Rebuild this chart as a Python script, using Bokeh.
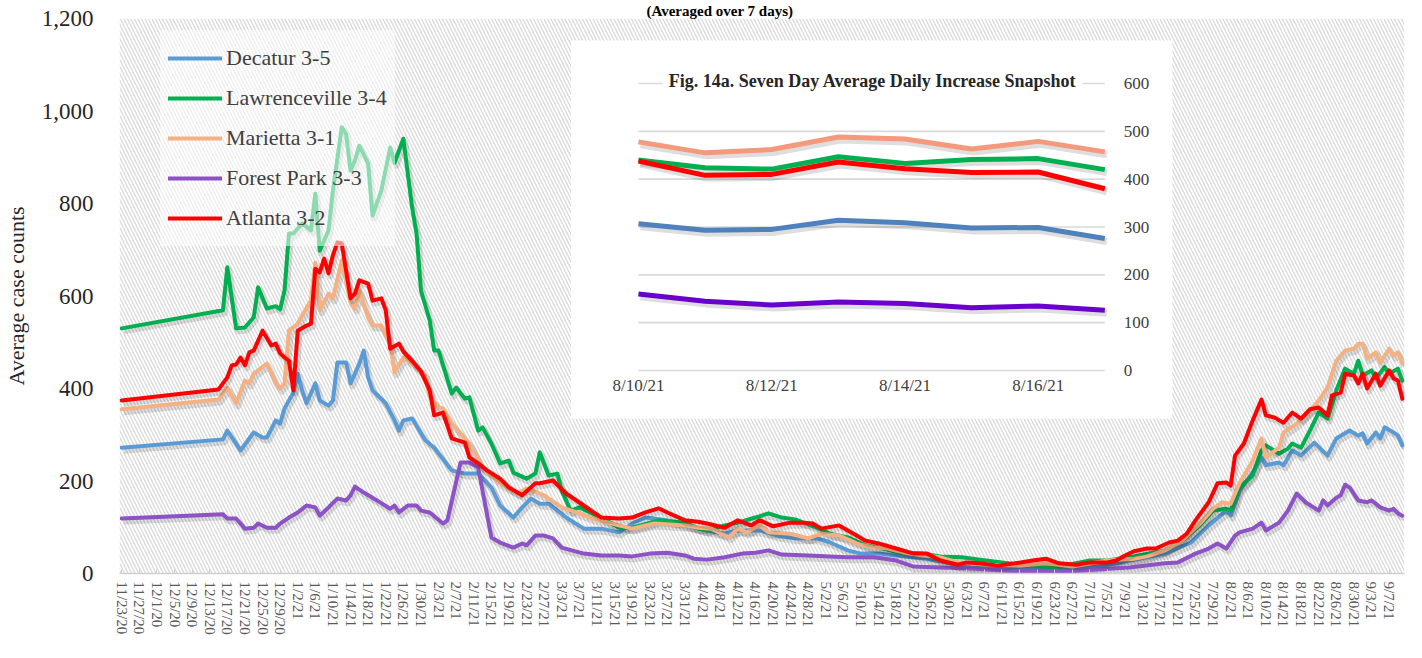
import pandas as pd
from bokeh.plotting import figure
from bokeh.models import (Range1d, FixedTicker, NumeralTickFormatter, BoxAnnotation,
                          Legend, LegendItem, Label, ColumnDataSource)
from bokeh.core.properties import value
from bokeh.embed import file_html
from bokeh.resources import INLINE

# ---------------- data ----------------
START_DATE = "2020-11-23"
N_DAYS = 292  # 11/23/20 .. 9/10/21 (daily categories)

chart_subtitle = "(Averaged over 7 days)"
series_names = ["Decatur 3-5", "Lawrenceville 3-4", "Marietta 3-1", "Forest Park 3-3", "Atlanta 3-2"]

decatur_day = [0,23,24,27,29,30,32,33,35,36,37,39,40,41,42,44,45,47,48,49,51,52,53,54,55,56,57,60,62,63,
               64,66,69,71,75,78,81,84,86,89,91,93,95,97,101,105,109,113,116,119,124,128,133,137,140,145,149,
               153,158,161,165,168,172,176,180,183,188,193,201,208,216,222,229,237,243,247,251,252,254,257,
               259,260,263,264,266,268,271,274,276,279,281,282,283,285,286,287,289,290,291]
decatur_val = [272,290,309,266,292,305,294,294,331,324,357,391,432,396,368,411,374,363,374,456,456,411,432,454,
               482,424,396,368,331,309,331,335,288,272,223,216,216,186,147,121,143,162,151,151,121,97,97,89,108,
               121,115,105,93,86,93,93,82,76,76,67,50,43,43,39,35,32,22,13,11,9,11,15,28,43,67,104,136,125,179,
               218,251,234,240,234,266,255,283,255,292,309,298,303,281,305,292,316,305,298,277]

lawrenceville_day = [0,23,24,26,28,30,31,33,35,36,37,38,39,41,43,44,45,47,48,50,51,52,53,54,56,57,59,61,62,64,
                     66,67,68,70,71,72,75,76,78,79,81,82,84,86,88,89,92,94,95,97,99,100,102,104,109,113,116,122,
                     128,131,133,137,140,144,147,150,153,158,161,165,169,173,177,182,186,191,195,200,204,212,220,
                     224,229,237,241,245,248,251,252,254,257,259,260,263,265,266,268,270,272,274,276,278,280,281,
                     282,284,285,287,288,290,291]
lawrenceville_val = [530,569,662,530,532,554,619,573,578,571,612,735,735,757,742,821,698,742,828,965,950,871,893,
                     925,886,774,828,921,888,940,791,735,612,547,482,482,389,402,378,381,309,316,281,238,244,218,
                     205,216,262,212,216,179,136,143,121,99,99,115,110,97,93,104,110,121,130,121,117,99,86,78,61,
                     54,45,43,37,35,30,24,19,13,28,28,35,50,71,104,136,140,136,186,212,266,277,259,270,281,272,309,
                     348,335,396,443,432,460,428,439,422,446,432,443,417]

marietta_day = [0,22,24,26,28,29,30,33,35,36,37,38,40,41,43,44,45,47,48,50,52,53,54,56,57,59,61,62,64,66,69,70,
                72,73,75,79,82,86,90,92,96,100,104,107,113,116,121,128,131,134,138,140,142,145,147,152,156,159,
                163,167,171,174,178,182,186,190,197,204,210,216,224,230,233,237,241,245,248,250,252,254,257,259,
                260,263,264,267,270,272,274,276,278,280,281,282,283,285,286,288,289,290,291]
marietta_val = [355,376,402,368,417,411,432,454,411,400,411,525,540,558,590,672,569,605,595,677,586,573,612,554,
                536,536,497,435,467,454,428,381,359,357,324,281,229,195,173,184,169,143,130,119,104,97,108,104,99,
                97,78,97,89,104,89,86,76,86,82,65,56,54,45,39,35,24,19,17,22,15,28,32,37,50,71,108,140,154,151,195,
                244,292,251,272,305,324,352,374,402,460,482,486,497,497,465,478,456,486,471,478,454]

forest_park_day = [0,23,24,26,28,30,31,33,35,36,38,40,42,44,45,47,49,51,52,53,55,58,61,62,63,65,67,68,70,73,74,
                   77,79,81,84,86,89,91,92,94,96,98,100,105,109,113,116,120,124,128,130,133,137,141,144,147,150,
                   156,161,165,171,176,180,186,193,201,208,216,222,229,237,240,244,247,249,251,253,254,257,259,260,
                   263,265,267,269,272,273,274,276,277,278,279,281,283,284,286,288,289,290,291]
forest_park_val = [119,128,119,119,97,99,108,99,99,108,121,132,147,143,125,143,162,158,169,188,175,158,140,147,132,
                   147,147,136,132,108,115,240,240,229,78,67,56,65,61,82,82,76,56,43,39,39,37,43,45,39,32,30,35,43,
                   45,50,41,39,37,35,35,28,15,13,11,6,5,5,9,13,22,24,43,54,65,54,82,89,97,110,93,110,136,173,154,
                   136,158,147,164,169,192,186,158,154,158,143,136,140,130,125]

atlanta_day = [0,22,24,25,26,27,28,29,30,32,34,35,36,37,38,39,40,42,43,44,45,46,47,48,49,50,52,53,54,56,57,59,60,
               61,63,64,66,68,70,71,73,75,78,79,81,83,86,88,91,94,95,98,101,105,109,113,116,119,122,124,128,131,
               133,137,140,143,145,148,152,155,157,159,163,167,169,172,176,180,183,186,190,192,195,199,203,207,
               210,213,217,220,224,226,228,230,233,235,238,240,242,244,247,249,251,252,253,255,257,259,260,262,
               264,266,268,270,272,274,275,277,278,280,281,282,283,285,286,288,289,290,291]
atlanta_val = [374,398,424,450,452,467,450,478,482,525,493,497,476,467,460,396,525,536,540,659,651,681,649,688,716,
               714,595,605,634,627,590,595,569,486,497,480,460,437,396,342,348,292,283,251,238,223,205,186,169,195,
               195,201,173,147,121,119,121,132,141,132,115,112,108,99,115,104,115,102,110,110,108,97,104,82,71,65,
               54,43,43,28,19,24,22,17,22,28,32,22,19,24,24,28,39,48,54,54,67,71,86,115,154,195,197,190,255,281,
               331,376,342,337,326,348,335,355,359,342,385,391,432,428,411,432,400,432,406,439,422,417,378]

y_ticks = [0, 200, 400, 600, 800, 1000, 1200]
tick_dates = pd.date_range(START_DATE, periods=N_DAYS)
tick_days = list(range(0, 289, 4))
tick_labels = [f"{d.month}/{d.day}/{d.year % 100}" for d in tick_dates[tick_days]]

# inset (Fig. 14a) data
inset_title = "Fig. 14a. Seven Day Average Daily Increase Snapshot"
inset_dates = ["8/10/21", "8/11/21", "8/12/21", "8/13/21", "8/14/21", "8/15/21", "8/16/21", "8/17/21"]
inset_decatur = [307, 293, 295, 314, 309, 298, 299, 276]
inset_lawrenceville = [440, 424, 421, 447, 433, 441, 443, 420]
inset_marietta = [478, 455, 462, 488, 484, 463, 479, 457]
inset_forest_park = [160, 145, 137, 143, 140, 131, 135, 126]
inset_atlanta = [438, 408, 410, 436, 422, 414, 415, 380]
inset_y_ticks = [0, 100, 200, 300, 400, 500, 600]

# ---------------- styling / geometry ----------------
FONT = "Liberation Serif"
main_colors = ["#5B9BD5", "#00B050", "#F4B183", "#8C52C6", "#FF0000"]
inset_colors = ["#4F81BD", "#00B050", "#F4997C", "#6A00CC", "#FF0000"]

W, H = 1406, 642
FL, FR, FT, FB = 109, 1404, 18, 573          # frame edges in canvas px
IX0, IX1, IY0, IY6 = 632, 1102, 370, 83      # inset: day0 / day7 x px, value 0 / 600 y px
SUBTITLE_LEFT = 636                          # subtitle left edge (canvas px)

def mx(px):
    return (px - FL) / (FR - FL) * N_DAYS - 0.5

def my(py):
    return (FB - py) / (FB - FT) * 1200

def ix(px):
    return (px - IX0) / (IX1 - IX0) * (len(inset_dates) - 1)

def iy(py):
    return (IY0 - py) / (IY0 - IY6) * 600

SX, SY = 2, 3  # shadow offset px

p = figure(width=W, height=H, output_backend="svg", toolbar_location=None,
           x_range=Range1d(-0.5, N_DAYS - 0.5), y_range=Range1d(0, 1200),
           min_border_left=FL, min_border_right=W - FR, min_border_top=FT, min_border_bottom=H - FB)
p.extra_x_ranges = {"sx": Range1d(mx(FL - SX), mx(FR - SX)),
                    "ix": Range1d(ix(FL), ix(FR)),
                    "isx": Range1d(ix(FL - SX), ix(FR - SX))}
p.extra_y_ranges = {"sy": Range1d(my(FB - SY), my(FT - SY)),
                    "iy": Range1d(iy(FB), iy(FT)),
                    "isy": Range1d(iy(FB - SY), iy(FT - SY))}
p.outline_line_color = None
p.xgrid.visible = False
p.ygrid.visible = False
p.background_fill_color = "white"

# chart subtitle in the thin strip above the plot area
p.title.text = chart_subtitle
p.title.align = "left"
p.title.offset = SUBTITLE_LEFT - FL
p.title.standoff = 0
p.title.text_font = FONT
p.title.text_font_style = "bold"
p.title.text_font_size = "15px"
p.title.text_color = "#000000"

# hatched plot-area background
p.add_layout(BoxAnnotation(fill_color="white", fill_alpha=1, line_alpha=0,
                           hatch_pattern="\\", hatch_color="#D9D9D9", hatch_scale=7,
                           hatch_weight=1.3, level="underlay"))

# axes
xa = p.xaxis[0]
xa.ticker = FixedTicker(ticks=tick_days)
xa.major_label_overrides = {d: lab for d, lab in zip(tick_days, tick_labels)}
xa.major_label_orientation = "vertical"
xa.major_label_text_font = FONT
xa.major_label_text_font_size = "15px"
xa.major_label_text_color = "#595959"
xa.major_label_standoff = 8
xa.axis_line_color = "#D0D0D0"
xa.axis_line_width = 1.5
xa.major_tick_line_color = "#D0D0D0"
xa.major_tick_in = 4
xa.major_tick_out = 0
xa.minor_tick_line_color = None

ya = p.yaxis[0]
ya.ticker = FixedTicker(ticks=y_ticks)
ya.formatter = NumeralTickFormatter(format="0,0")
ya.major_label_text_font = FONT
ya.major_label_text_font_size = "23px"
ya.major_label_text_color = "#262626"
ya.major_label_standoff = 20
ya.axis_line_color = None
ya.major_tick_line_color = None
ya.minor_tick_line_color = None
ya.axis_label = "Average case counts"
ya.axis_label_text_font = FONT
ya.axis_label_text_font_style = "normal"
ya.axis_label_text_font_size = "22px"
ya.axis_label_text_color = "#262626"
ya.axis_label_standoff = 10

# main lines with soft shadows
main_series = [(decatur_day, decatur_val), (lawrenceville_day, lawrenceville_val),
               (marietta_day, marietta_val), (forest_park_day, forest_park_val),
               (atlanta_day, atlanta_val)]
items = []
for name, color, (days, vals) in zip(series_names, main_colors, main_series):
    src = ColumnDataSource(dict(x=days, y=vals))
    p.line("x", "y", source=src, x_range_name="sx", y_range_name="sy",
           line_color="#000000", line_alpha=0.13, line_width=6, line_join="round")
    r = p.line("x", "y", source=src, line_color=color, line_width=4, line_join="round", line_cap="round")
    items.append(LegendItem(label=name, renderers=[r]))

LEG_TOP, LEG_H = 30, 216
legend = Legend(items=items, location=(41, FB - LEG_TOP - LEG_H), orientation="vertical",
                label_text_font=FONT, label_text_font_size="22px", label_text_color="#404040",
                glyph_width=54, glyph_height=40, label_height=40, spacing=0, padding=8, margin=0,
                label_standoff=4, background_fill_color="white", background_fill_alpha=0.55,
                border_line_alpha=0)
p.add_layout(legend)

# ---------------- inset chart ----------------
p.add_layout(BoxAnnotation(left=ix(564), right=ix(1170), top=iy(40), bottom=iy(418),
                           x_range_name="ix", y_range_name="iy",
                           fill_color="white", fill_alpha=1, line_alpha=0, level="annotation"))

n_in = len(inset_dates)
grid_src = ColumnDataSource(dict(x0=[0] * len(inset_y_ticks), x1=[n_in - 1] * len(inset_y_ticks),
                                 y=inset_y_ticks))
p.segment(x0="x0", y0="y", x1="x1", y1="y", source=grid_src, x_range_name="ix", y_range_name="iy",
          line_color="#D9D9D9", line_width=1.6, level="overlay")

inset_series = [inset_decatur, inset_lawrenceville, inset_marietta, inset_forest_park, inset_atlanta]
for color, vals in zip(inset_colors, inset_series):
    src = ColumnDataSource(dict(x=list(range(n_in)), y=vals))
    p.line("x", "y", source=src, x_range_name="isx", y_range_name="isy",
           line_color="#000000", line_alpha=0.13, line_width=7, line_join="round", level="overlay")
    p.line("x", "y", source=src, x_range_name="ix", y_range_name="iy",
           line_color=color, line_width=5, line_join="round", level="overlay")

xl_idx = list(range(0, n_in, 2))
p.text(x=xl_idx, y=[iy(385)] * len(xl_idx), text=[inset_dates[i] for i in xl_idx],
       x_range_name="ix", y_range_name="iy", text_font=value(FONT), text_font_size="17px",
       text_color="#404040", text_align="center", text_baseline="middle", level="overlay")
p.text(x=[ix(1121)] * len(inset_y_ticks), y=inset_y_ticks, text=[str(v) for v in inset_y_ticks],
       x_range_name="ix", y_range_name="iy", text_font=value(FONT), text_font_size="17px",
       text_color="#404040", text_align="left", text_baseline="middle", level="overlay")

p.add_layout(Label(x=ix(868), y=iy(80), text=inset_title, x_range_name="ix", y_range_name="iy",
                   text_font=FONT, text_font_style="bold", text_font_size="18px", text_color="#262626",
                   text_align="center", text_baseline="middle",
                   background_fill_color="white", background_fill_alpha=1, padding=6, level="overlay"))

open("out.html", "w").write(file_html(p, INLINE))
